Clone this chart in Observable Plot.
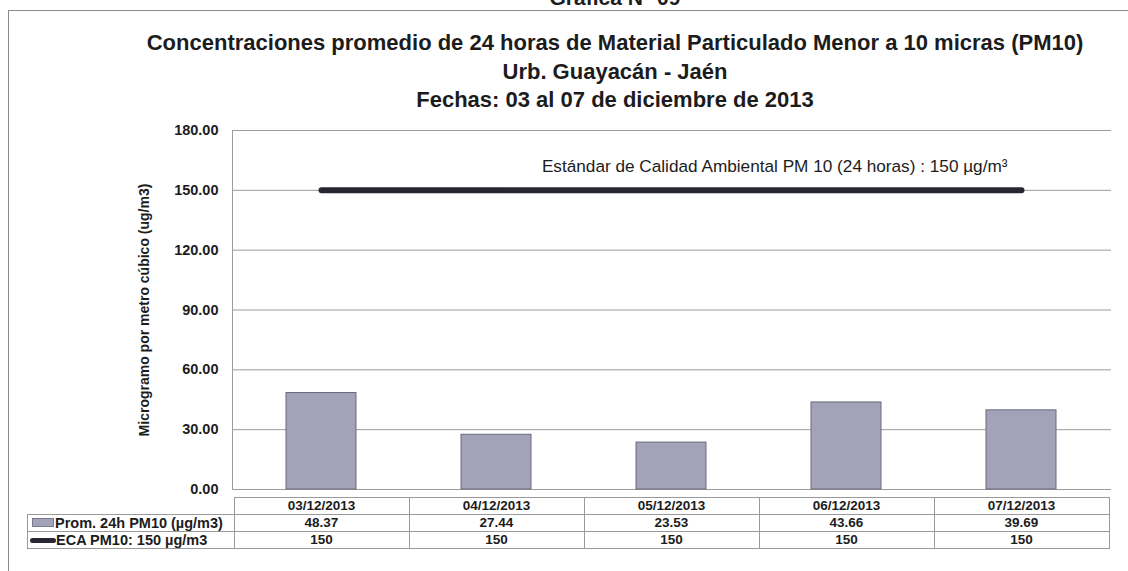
<!DOCTYPE html>
<html><head><meta charset="utf-8">
<script src="https://cdn.jsdelivr.net/npm/d3@7"></script>
<script src="https://cdn.jsdelivr.net/npm/@observablehq/plot@0.6"></script>
<style>
body{margin:0;background:#fff;}
#wrap{position:relative;width:1128px;height:571px;overflow:hidden;font-family:"Liberation Sans",Arial,sans-serif;color:#1c1c1c;}
#wrap svg{position:absolute;left:0;top:0;}
.t{position:absolute;left:0;width:1230px;text-align:center;font-weight:bold;white-space:nowrap;}
.cell{position:absolute;box-sizing:border-box;border:1px solid #9a9a9a;font-weight:bold;font-size:13.5px;text-align:center;line-height:16px;white-space:nowrap;}
.box{position:absolute;left:8px;top:10px;width:1200px;height:600px;border-left:1px solid #8a8a8a;border-top:1px solid #8a8a8a;}
</style></head>
<body><div id="wrap"></div>
<script>
const fechas = ["03/12/2013", "04/12/2013", "05/12/2013", "06/12/2013", "07/12/2013"];
const promedio = [48.37, 27.44, 23.53, 43.66, 39.69];
const eca = [150, 150, 150, 150, 150];
const yTicks = [0, 30, 60, 90, 120, 150, 180];
const seriePromedio = "Prom. 24h PM10 (µg/m3)";
const serieEca = "ECA PM10: 150 µg/m3";
const encabezado = "Gráfica N° 09";
const titulos = [
  "Concentraciones promedio de 24 horas de Material Particulado Menor a 10 micras (PM10)",
  "Urb. Guayacán - Jaén",
  "Fechas: 03 al 07 de diciembre de 2013"
];
const anotacion = "Estándar de Calidad Ambiental PM 10 (24 horas) : 150 µg/m³";
const anotacionValor = [162];
const ejeY = "Microgramo por metro cúbico (ug/m3)";

const data = fechas.map((f, i) => ({fecha: f, prom: promedio[i], eca: eca[i]}));
const wrap = document.getElementById("wrap");

const plot = Plot.plot({
  width: 1128, height: 571,
  marginLeft: 232, marginRight: 17, marginTop: 130, marginBottom: 82,
  style: {fontFamily: "'Liberation Sans', Arial, sans-serif", background: "transparent", color: "#1c1c1c"},
  x: {domain: fechas, paddingInner: 0.6, paddingOuter: 0.3, axis: null},
  y: {domain: [0, 180], axis: null},
  marks: [
    Plot.gridY(yTicks, {stroke: "#9c9c9c", strokeOpacity: 1, strokeWidth: 1}),
    Plot.frame({anchor: "left", stroke: "#9c9c9c"}),
    Plot.axisY(yTicks, {tickFormat: d3.format(".2f"), tickSize: 0, tickPadding: 14, label: null, fontSize: 14.5, fontWeight: "bold"}),
    Plot.text([ejeY], {frameAnchor: "left", rotate: -90, dx: -88, textAnchor: "middle", text: d => d, fontSize: 14, fontWeight: "bold"}),
    Plot.barY(data, {x: "fecha", y: "prom", fill: "#a2a2b9", stroke: "#6a6a7e", strokeWidth: 1}),
    Plot.lineY(data, {x: "fecha", y: "eca", stroke: "#272734", strokeWidth: 6, strokeLinecap: "round"}),
    Plot.text([anotacion], {x: [fechas[fechas.length - 1]], y: anotacionValor, text: d => d, textAnchor: "end", dx: -14, fontSize: 17.2, fill: "#1c1c1c"})
  ]
});
wrap.appendChild(plot);

const box = document.createElement("div");
box.className = "box";
wrap.appendChild(box);

function addText(txt, top, size) {
  const d = document.createElement("div");
  d.className = "t";
  d.style.top = top + "px";
  d.style.fontSize = size + "px";
  d.textContent = txt;
  wrap.appendChild(d);
  return d;
}
addText(encabezado, -14, 21);
titulos.forEach((t, i) => addText(t, 30 + i * 28.5, 22));

// data table under the chart, aligned to the x band scale
const xs = plot.scale("x");
const step = xs.step;
const bw = xs.bandwidth;
const rowTop = 497, rowH = 17;
function cell(left, top, w, h, html, extra) {
  const c = document.createElement("div");
  c.className = "cell";
  Object.assign(c.style, {left: left + "px", top: top + "px", width: (w + 1) + "px", height: (h + 1) + "px"});
  if (extra) Object.assign(c.style, extra);
  c.innerHTML = html;
  wrap.appendChild(c);
}
const rows = [fechas, promedio.map(d => d.toFixed(2)), eca.map(String)];
fechas.forEach((f, i) => {
  const left = xs.apply(f) - (step - bw) / 2;
  rows.forEach((r, j) => cell(left, rowTop + j * rowH, step, rowH, r[i]));
});
const firstLeft = xs.apply(fechas[0]) - (step - bw) / 2;
cell(27, rowTop + rowH, firstLeft - 27, rowH,
  '<span style="display:inline-block;width:20px;height:7px;background:#a2a2b9;border:1px solid #7a7a8c;margin:0 1px 0 4px;vertical-align:1px"></span>' + seriePromedio,
  {textAlign: "left", fontSize: "14.5px"});
cell(27, rowTop + 2 * rowH, firstLeft - 27, rowH,
  '<span style="display:inline-block;width:26px;height:5px;background:#272734;border-radius:3px;margin:0 0 0 2px;vertical-align:2px"></span>' + serieEca,
  {textAlign: "left", fontSize: "14.5px"});
</script>
</body></html>
